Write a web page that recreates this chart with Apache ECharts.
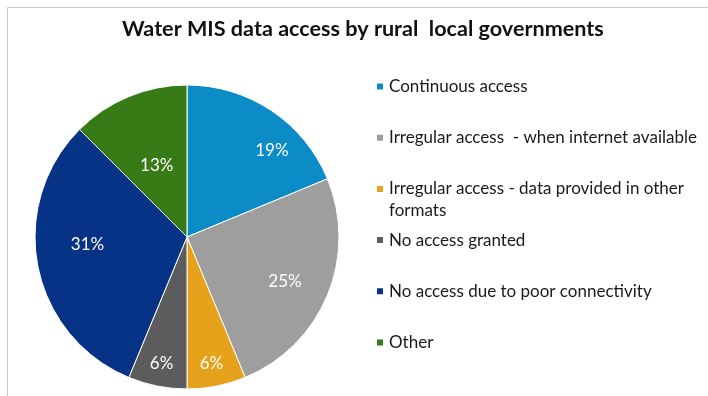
<!DOCTYPE html>
<html>
<head>
<meta charset="utf-8">
<script src="https://cdn.jsdelivr.net/npm/echarts@6/dist/echarts.min.js"></script>
<style>
  html, body { margin: 0; padding: 0; background: #fff; }
  #main { width: 708px; height: 396px; }
</style>
</head>
<body>
<div id="main"></div>
<script>
var titleText = 'Water MIS data access by rural  local governments'
var categories = [
    'Continuous access',
    'Irregular access  - when internet available',
    'Irregular access - data provided in other formats',
    'No access granted',
    'No access due to poor connectivity',
    'Other'
]
// share of local governments, percent
var values = [18.75, 25, 6.25, 6.25, 31.25, 12.5]
var colors = ['#0B8CC7', '#9E9E9E', '#E5A21A', '#5C5C5C', '#073386', '#377B17']

var FONT = 'Lato'

// nudges so the in-slice labels sit where the original put them
var labelShift = [[41, -21], [25, 14], [9, 49], [-10, 49], [-22, -8], [0, 2]]

var chart = echarts.init(document.getElementById('main'), null, { renderer: 'canvas' })

chart.setOption({
    animation: false,
    backgroundColor: '#fff',
    title: {
        text: titleText,
        left: 122,
        top: 18,
        padding: 0,
        textStyle: {
            fontFamily: FONT,
            fontWeight: 'bold',
            fontSize: 21.6,
            color: '#111'
        }
    },
    legend: {
        orient: 'vertical',
        left: 370,
        top: 71.5,
        icon: 'rect',
        itemWidth: 8,
        itemHeight: 8,
        itemGap: 31.2,
        selectedMode: false,
        data: categories,
        formatter: function (name) {
            // the long one wraps, second line drawn separately below
            return name === categories[2] ? 'Irregular access - data provided in other' : name
        },
        textStyle: {
            fontFamily: FONT,
            fontSize: 17,
            lineHeight: 20,
            color: '#1a1a1a'
        }
    },
    graphic: [
        {
            type: 'text',
            left: 389,
            top: 202,
            style: {
                text: 'formats',
                font: '17px ' + FONT,
                fill: '#1a1a1a'
            }
        },
        {
            type: 'polyline',
            shape: { points: [[7.5, 396], [7.5, 7.5], [708, 7.5]] },
            style: { stroke: '#C8C8C8', lineWidth: 1, fill: null }
        }
    ],
    series: [{
        name: 'Data access',
        type: 'pie',
        center: [187, 237],
        radius: 152,
        startAngle: 90,
        clockwise: true,
        color: colors,
        itemStyle: {
            borderColor: '#fff',
            borderWidth: 1
        },
        label: {
            position: 'inside',
            color: '#fff',
            fontFamily: FONT,
            fontSize: 17,
            formatter: function (p) {
                return Math.round(p.value) + '%'
            }
        },
        labelLine: { show: false },
        labelLayout: function (p) {
            var s = labelShift[p.dataIndex]
            return { dx: s[0], dy: s[1] }
        },
        emphasis: { disabled: true },
        data: categories.map(function (c, i) {
            return { name: c, value: values[i] }
        })
    }]
})
</script>
</body>
</html>
